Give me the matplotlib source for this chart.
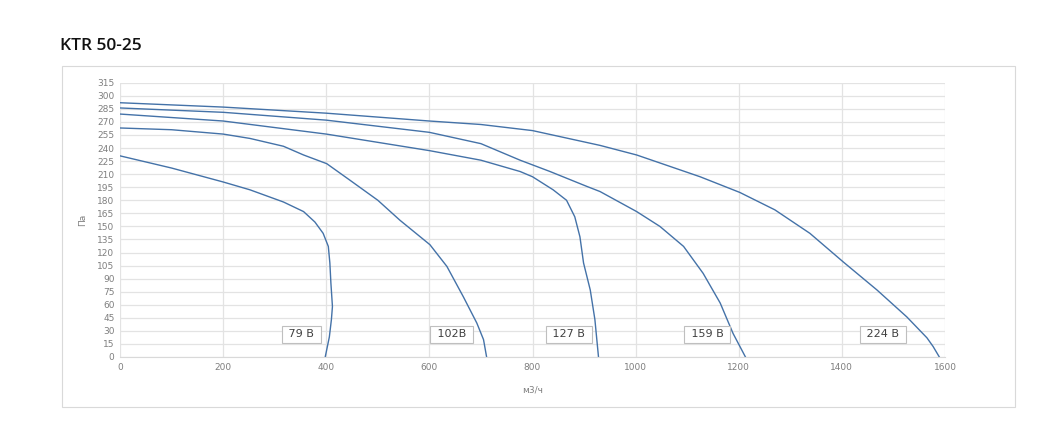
import matplotlib

matplotlib.use("Agg")
import matplotlib.pyplot as plt
from matplotlib.patches import Rectangle

# Curvas del ventilador (presion vs. caudal) para cada tension
x_79 = [0, 100, 200, 252, 317, 356, 378, 394, 404, 407, 409, 412, 410, 406, 398]
y_79 = [231, 217, 201, 192, 178, 167, 155, 142, 127, 108, 85, 58, 43, 23, 0]

x_102 = [0, 100, 200, 252, 317, 356, 401, 446, 500, 543, 601, 634, 666, 692, 705, 711]
y_102 = [263, 261, 256, 251, 242, 232, 222, 203, 180, 157, 129, 104, 69, 39, 20, 0]

x_127 = [0, 200, 400, 600, 700, 776, 800, 840, 866, 882, 892, 899, 912, 921, 928]
y_127 = [279, 271, 256, 237, 226, 213, 207, 192, 180, 161, 138, 108, 77, 43, 0]

x_159 = [0, 200, 400, 600, 700, 776, 834, 905, 931, 1002, 1047, 1093, 1131, 1164, 1189, 1213]
y_159 = [286, 281, 272, 258, 245, 226, 213, 196, 190, 167, 150, 127, 96, 62, 27, 0]

x_224 = [0, 200, 400, 600, 700, 800, 931, 1002, 1125, 1202, 1270, 1338, 1403, 1468, 1526, 1565, 1577, 1589]
y_224 = [292, 287, 280, 271, 267, 260, 243, 232, 207, 189, 169, 142, 109, 77, 46, 22, 12, 0]

curvas = [(x_79, y_79), (x_102, y_102), (x_127, y_127), (x_159, y_159), (x_224, y_224)]

etiquetas = ["79 В", "102В", "127 В", "159 В", "224 В"]
etiqueta_x = [352, 643, 871, 1139, 1480]
etiqueta_y = [26, 26, 26, 26, 26]

COLOR_LINEA = "#4472a8"
COLOR_TEXTO = "#7f7f7f"
COLOR_GRID = "#e3e3e3"

fig = plt.figure(figsize=(10.63, 4.29), dpi=100)

# marco exterior del grafico
fig.patches.append(
    Rectangle((62 / 1063, 1 - 407 / 429), (1015 - 62) / 1063, (407 - 66) / 429,
              transform=fig.transFigure, fill=False, edgecolor="#d9d9d9", linewidth=0.8)
)

fig.text(60 / 1063, 1 - 50 / 429, "KTR 50-25", fontsize=12.5, fontweight="semibold",
         family="Open Sans", color="#111111", va="baseline")

ax = fig.add_axes([120 / 1063, 1 - 357 / 429, 825 / 1063, (357 - 82.7) / 429])

for xs, ys in curvas:
    ax.plot(xs, ys, color=COLOR_LINEA, linewidth=1.0)

for texto, tx, ty in zip(etiquetas, etiqueta_x, etiqueta_y):
    ax.text(tx, ty, " " + texto + " ", ha="center", va="center", fontsize=8, color="#404040",
            bbox=dict(boxstyle="square,pad=0.3", facecolor="white", edgecolor="#bfbfbf", linewidth=0.8))

ax.set_xlim(0, 1600)
ax.set_ylim(0, 315)
ax.set_xticks(range(0, 1601, 200))
ax.set_yticks(range(0, 316, 15))
ax.grid(True, color=COLOR_GRID, linewidth=0.9)
ax.set_axisbelow(True)
for lado in ["top", "right", "left"]:
    ax.spines[lado].set_visible(False)
ax.spines["bottom"].set_color("#d9d9d9")
ax.tick_params(length=0, labelsize=6.5, colors=COLOR_TEXTO, pad=4)

ax.set_xlabel("м3/ч", fontsize=6.5, color=COLOR_TEXTO, labelpad=10)
ax.set_ylabel("Па", fontsize=6.5, color=COLOR_TEXTO, labelpad=7)

fig.savefig("out.png", dpi=100)
